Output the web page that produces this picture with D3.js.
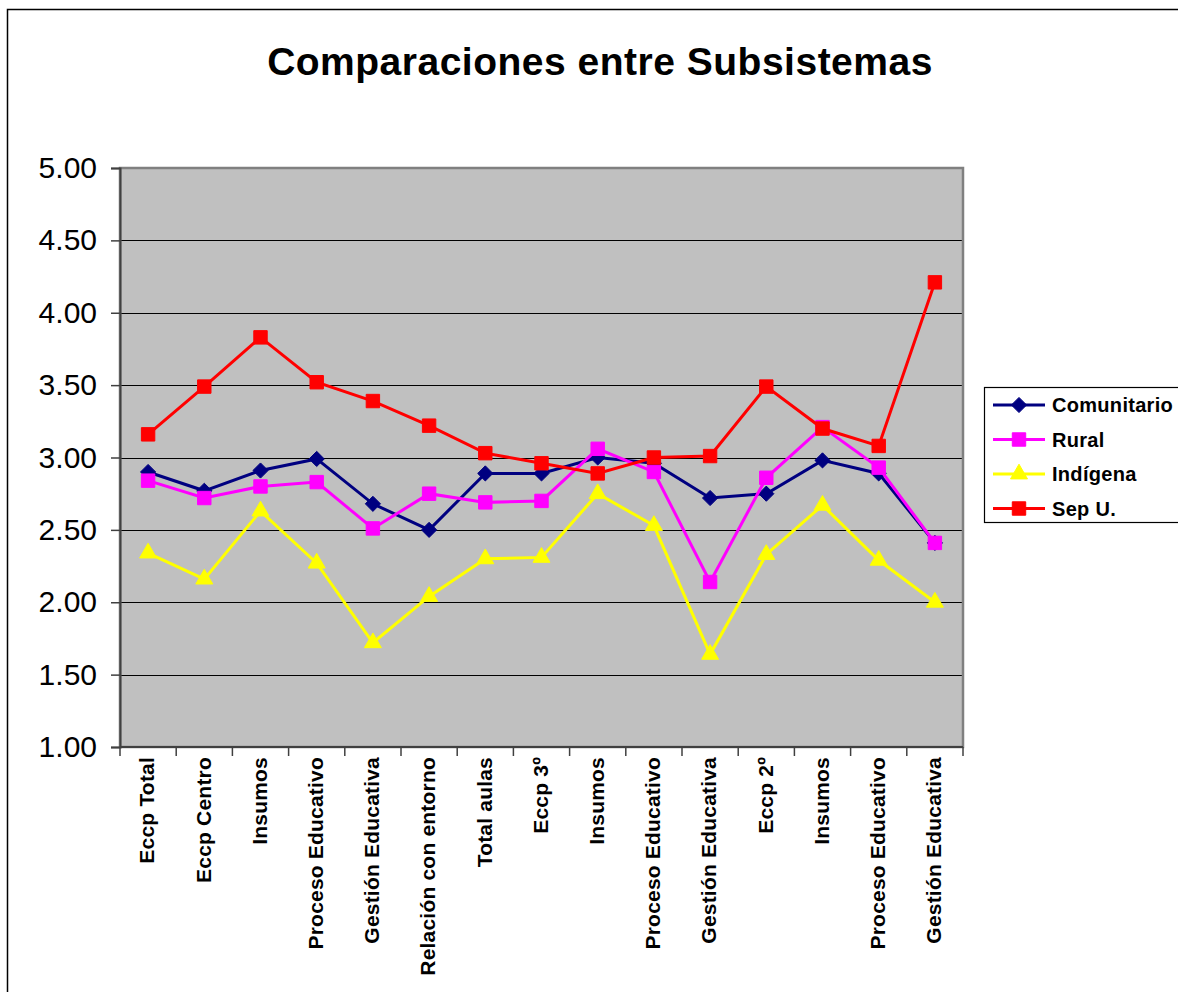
<!DOCTYPE html>
<html><head><meta charset="utf-8">
<script src="https://cdn.jsdelivr.net/npm/d3@7"></script>
<style>
html,body{margin:0;padding:0;background:#fff;}
svg{display:block;font-family:"Liberation Sans",Arial,sans-serif;}
</style></head>
<body>
<svg id="chart" width="1178" height="992"></svg>
<script>
const categories = ["Eccp Total","Eccp Centro","Insumos","Proceso Educativo","Gestión Educativa","Relación con entorno","Total aulas","Eccp 3º","Insumos","Proceso Educativo","Gestión Educativa","Eccp 2º","Insumos","Proceso Educativo","Gestión Educativa"];
const seriesNames = ["Comunitario","Rural","Indígena","Sep U."];
const comunitario = [2.90,2.77,2.91,2.99,2.68,2.50,2.89,2.89,3.00,2.96,2.72,2.75,2.98,2.89,2.41];
const rural       = [2.84,2.72,2.80,2.83,2.51,2.75,2.69,2.70,3.06,2.90,2.14,2.86,3.21,2.93,2.41];
const indigena    = [2.34,2.16,2.63,2.27,1.72,2.04,2.30,2.31,2.75,2.53,1.64,2.33,2.67,2.29,2.00];
const sepU        = [3.16,3.49,3.83,3.52,3.39,3.22,3.03,2.96,2.89,3.00,3.01,3.49,3.20,3.08,4.21];
const yTicks = [1.00,1.50,2.00,2.50,3.00,3.50,4.00,4.50,5.00];
const colors = ["#000080","#ff00ff","#ffff00","#ff0000"];
const diamond = { draw(ctx,size){ const r=Math.sqrt(size/2); ctx.moveTo(0,-r); ctx.lineTo(r,0); ctx.lineTo(0,r); ctx.lineTo(-r,0); ctx.closePath(); } };
const symbols = [diamond, d3.symbolSquare, d3.symbolTriangle, d3.symbolSquare];
const symSizes = [115, 180, 125, 180];
const allSeries = [comunitario, rural, indigena, sepU];

const svg = d3.select("#chart");
// outer chart border
svg.append("rect").attr("x",7.5).attr("y",9.5).attr("width",1200).attr("height",1000)
  .attr("fill","#fff").attr("stroke","#000").attr("stroke-width",1.5);

const L=120, T=168, R=963, B=747;
const x = d3.scaleBand().domain(d3.range(categories.length)).range([L,R]).padding(0);
const y = d3.scaleLinear().domain([1,5]).range([B,T]);

// title
svg.append("text").attr("x",600).attr("y",75).attr("text-anchor","middle")
  .attr("font-weight","bold").attr("font-size",39).attr("letter-spacing",0.5)
  .text("Comparaciones entre Subsistemas");

// plot area
svg.append("rect").attr("x",L).attr("y",T).attr("width",R-L).attr("height",B-T)
  .attr("fill","#c0c0c0");

// gridlines
svg.append("g").selectAll("line").data(yTicks.filter(d=>d>1 && d<5)).join("line")
  .attr("x1",L).attr("x2",R).attr("y1",d=>Math.round(y(d))+0.5).attr("y2",d=>Math.round(y(d))+0.5)
  .attr("stroke","#000").attr("stroke-width",1.2);

// plot border
svg.append("rect").attr("x",L).attr("y",T).attr("width",R-L).attr("height",B-T)
  .attr("fill","none").attr("stroke","#808080").attr("stroke-width",2.5);

// y axis
const yAxis = d3.axisLeft(y).tickValues(yTicks).tickFormat(d3.format(".2f")).tickSize(9).tickPadding(14);
const gy = svg.append("g").attr("transform",`translate(${L},0)`).call(yAxis);
gy.select(".domain").attr("stroke","#404040").attr("stroke-width",2);
gy.selectAll(".tick line").attr("stroke","#404040").attr("stroke-width",1.5);
gy.selectAll(".tick text").attr("font-size",30).attr("fill","#000").attr("font-family","Liberation Sans, Arial, sans-serif");

// x axis: ticks at category boundaries
const bounds = d3.range(categories.length+1).map(i => L + i*x.bandwidth());
svg.append("g").selectAll("line").data(bounds).join("line")
  .attr("x1",d=>d).attr("x2",d=>d).attr("y1",B).attr("y2",B+9)
  .attr("stroke","#404040").attr("stroke-width",1.5);
svg.append("line").attr("x1",L).attr("x2",R).attr("y1",B).attr("y2",B)
  .attr("stroke","#404040").attr("stroke-width",2);

svg.append("g").selectAll("text").data(categories).join("text")
  .attr("transform",(d,i)=>`translate(${x(i)+x.bandwidth()/2-1},${B+10}) rotate(-90)`)
  .attr("text-anchor","end").attr("dy","0.35em")
  .attr("font-weight","bold").attr("font-size",21).attr("letter-spacing",0.2).text(d=>d);

// series
const line = d3.line().x((d,i)=>x(i)+x.bandwidth()/2).y(d=>y(d));
allSeries.forEach((vals,si)=>{
  const g = svg.append("g");
  g.append("path").datum(vals).attr("d",line).attr("fill","none")
    .attr("stroke",colors[si]).attr("stroke-width",3);
  g.selectAll("path.m").data(vals).join("path").attr("class","m")
    .attr("transform",(d,i)=>`translate(${x(i)+x.bandwidth()/2},${y(d)})`)
    .attr("d",d3.symbol().type(symbols[si]).size(symSizes[si]))
    .attr("fill",colors[si]).attr("stroke",colors[si]).attr("stroke-width",1);
});

// legend
const lg = svg.append("g");
lg.append("rect").attr("x",984.5).attr("y",387.5).attr("width",260).attr("height",135)
  .attr("fill","#fff").attr("stroke","#000").attr("stroke-width",1.2);
seriesNames.forEach((n,si)=>{
  const cy = 405 + si*34.5;
  lg.append("line").attr("x1",993).attr("x2",1045).attr("y1",cy).attr("y2",cy)
    .attr("stroke",colors[si]).attr("stroke-width",3);
  lg.append("path").attr("transform",`translate(1019,${cy})`)
    .attr("d",d3.symbol().type(symbols[si]).size(symSizes[si]))
    .attr("fill",colors[si]).attr("stroke",colors[si]).attr("stroke-width",1);
  lg.append("text").attr("x",1052).attr("y",cy).attr("dy","0.35em")
    .attr("font-weight","bold").attr("font-size",20).attr("letter-spacing",0.3).text(n);
});
</script>
</body></html>
